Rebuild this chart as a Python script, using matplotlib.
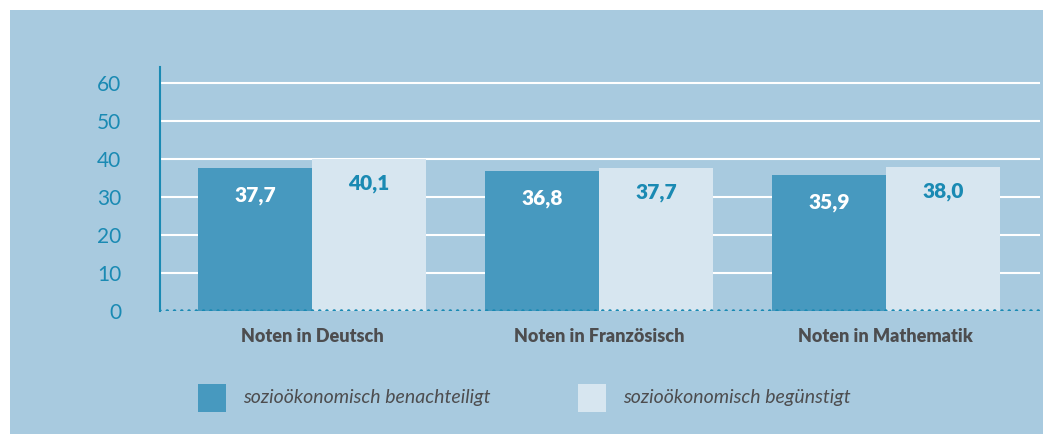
import matplotlib.pyplot as plt
from matplotlib.patches import Rectangle
import numpy as np

categories = ['Noten in Deutsch', 'Noten in Französisch', 'Noten in Mathematik']
benachteiligt = [37.7, 36.8, 35.9]
beguenstigt = [40.1, 37.7, 38.0]
series_names = ['sozioökonomisch benachteiligt', 'sozioökonomisch begünstigt']
yticks = [0, 10, 20, 30, 40, 50, 60]

BG = '#a8cadf'
DARK = '#4799bf'
LIGHT = '#d7e6f0'
TEAL = '#1a8ab3'
GREY = '#4d4d4f'

plt.rcParams['font.family'] = ['Lato', 'DejaVu Sans']

W, H = 1043, 434
fig = plt.figure(figsize=(W / 100, H / 100), dpi=100)
fig.patch.set_facecolor('white')
fig.patches.append(Rectangle((10 / W, 0), 1, 1 - 10 / H, transform=fig.transFigure,
                             facecolor=BG, edgecolor='none', zorder=-10))

ax = fig.add_axes([160 / W, 1 - 311 / H, (1040 - 160) / W, (311 - 67) / H])
ax.set_facecolor('none')
ax.set_zorder(2)

x = np.arange(len(categories))
w = 0.397
off = 0.1986
b1 = ax.bar(x - off, benachteiligt, w, color=DARK, zorder=3)
b2 = ax.bar(x + off, beguenstigt, w, color=LIGHT, zorder=3)

for rect, v in zip(b1, benachteiligt):
    ax.annotate(f'{v:.1f}'.replace('.', ','), (rect.get_x() + rect.get_width() / 2, v),
                xytext=(0, -20), textcoords='offset points', ha='center', va='center',
                color='white', fontsize=15, fontweight='heavy', zorder=4)
for rect, v in zip(b2, beguenstigt):
    ax.annotate(f'{v:.1f}'.replace('.', ','), (rect.get_x() + rect.get_width() / 2, v),
                xytext=(0, -18), textcoords='offset points', ha='center', va='center',
                color=TEAL, fontsize=15, fontweight='heavy', zorder=4)

ax.set_xlim(-0.5296, 2.537)
ax.set_ylim(0, 64.2)
ax.set_yticks(yticks)
ax.set_yticklabels([str(t) for t in yticks], color=TEAL, fontsize=15)
ax.tick_params(axis='y', length=0, pad=28)
ax.set_xticks(x)
ax.set_xticklabels(categories, color=GREY, fontsize=13, fontweight='heavy')
ax.tick_params(axis='x', length=0, pad=12)

for t in yticks[1:]:
    ax.axhline(t, color='white', lw=1.5, zorder=1)
ax.axhline(0, color=TEAL, lw=2.6, ls=(0, (0.01, 2.0)), dash_capstyle='round', zorder=5)

for s in ['top', 'right', 'bottom']:
    ax.spines[s].set_visible(False)
ax.spines['left'].set_color(TEAL)
ax.spines['left'].set_linewidth(1.5)

# legend
for (x0, name, col) in [(198, series_names[0], DARK), (578, series_names[1], LIGHT)]:
    fig.patches.append(Rectangle((x0 / W, 1 - 412 / H), 28 / W, 28 / H,
                                 transform=fig.transFigure, facecolor=col, edgecolor='none'))
    fig.text((x0 + 45) / W, 1 - 398 / H, name, color=GREY, fontsize=14,
             fontstyle='italic', va='center', ha='left')

fig.savefig('out.png', dpi=100)
